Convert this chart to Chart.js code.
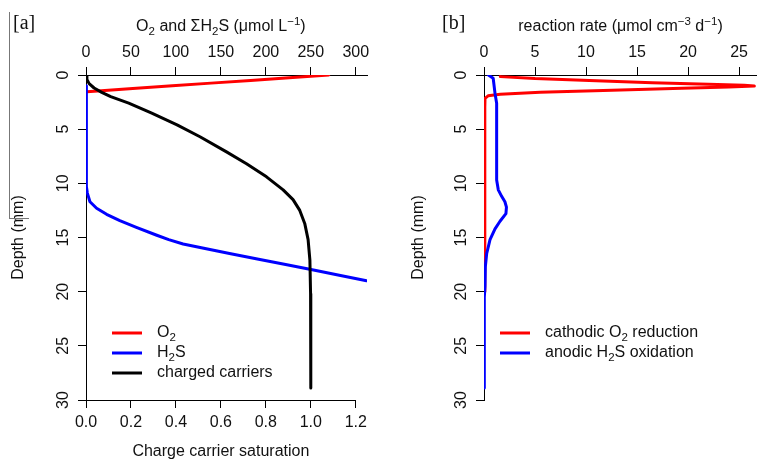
<!DOCTYPE html>
<html>
<head>
<meta charset="utf-8">
<script src="https://cdn.jsdelivr.net/npm/chart.js@4.4.1/dist/chart.umd.min.js"></script>
<style>
  html, body { margin: 0; padding: 0; background: #fff; }
  #wrap { position: relative; width: 757px; height: 462px; overflow: hidden; }
  #panelA { position: absolute; left: 0; top: 0; }
  #panelB { position: absolute; left: 378px; top: 0; }
  #edge { position: absolute; left: 9px; top: 12px; width: 19px; height: 206px; border-left: 1px solid #777; border-bottom: 1px solid #777; }
</style>
</head>
<body>
<div id="wrap">
  <canvas id="panelA" width="378" height="462"></canvas>
  <canvas id="panelB" width="379" height="462"></canvas>
  <div id="edge"></div>
</div>
<script>
// tick labels
const depthTicks = [0, 5, 10, 15, 20, 25, 30];
const concTicks = [0, 50, 100, 150, 200, 250, 300];
const satTicks = [0, 0.2, 0.4, 0.6, 0.8, 1.0, 1.2];
const rateTicks = [0, 5, 10, 15, 20, 25];

// panel a : O2 (umol/L)
const o2Depth = [0, 0.25, 0.5, 0.75, 1.0, 1.25, 1.45, 1.55];
const o2Conc = [270, 226, 183, 139, 96, 52, 17, 1];

// panel a : H2S (umol/L)
const h2sDepth = [1.0, 5, 9.4, 10.3, 10.9, 11.7, 12.3, 12.86, 13.45, 14.06, 14.77, 15.2, 15.6, 16.0, 16.5, 17.0, 17.5, 18.0, 18.5, 19.0];
const h2sConc = [0, 0, 0.4, 0.9, 1.5, 4.4, 11.8, 22.9, 37.6, 56, 78, 92, 108, 131, 161, 192, 222, 253, 283, 312];

// panel a : charge carrier saturation
const ccDepth = [0, 0.4, 0.8, 1.2, 1.6, 2.0, 2.6, 3.5, 4.6, 5.7, 7.1, 8.2, 9.4, 10.6, 11.5, 12.5, 13.7, 15.2, 17.1, 20.2, 28.9];
const ccSat = [0, 0.004, 0.014, 0.036, 0.07, 0.11, 0.19, 0.29, 0.405, 0.507, 0.625, 0.714, 0.803, 0.877, 0.921, 0.951, 0.973, 0.988, 0.996, 0.999, 1.0];

// panel b : cathodic O2 reduction (umol cm-3 d-1)
const cathDepth = [0.15, 0.33, 0.52, 0.72, 0.85, 0.95, 1.02, 1.1, 1.23, 1.42, 1.6, 1.78, 1.92, 2.15, 3, 10, 20];
const cathRate = [1.6, 5.0, 11.0, 16.5, 22.0, 25.5, 26.5, 24.0, 19.4, 11.7, 5.5, 1.6, 0.4, 0.1, 0.08, 0.08, 0.08];

// panel b : anodic H2S oxidation
const anoDepth = [0, 0.3, 1.7, 2.6, 9.7, 10.6, 11.2, 11.7, 12.2, 12.8, 13.5, 14.2, 15.2, 16.5, 17.7, 19.5, 20.5, 28.9];
const anoRate = [0.43, 0.9, 1.08, 1.24, 1.24, 1.4, 1.73, 2.05, 2.2, 2.15, 1.57, 1.08, 0.59, 0.26, 0.13, 0.1, 0.03, 0.03];

const FONT = "'Liberation Sans', Arial, sans-serif";
const INK = '#111';

function pts(depth, vals) {
  return depth.map((d, i) => ({ x: vals[i], y: d }));
}

function line(label, depth, vals, color, xAxisID, order) {
  return {
    label, data: pts(depth, vals), xAxisID, yAxisID: 'y', order,
    showLine: true, borderColor: color, backgroundColor: color, borderWidth: 3,
    pointRadius: 0, tension: 0, borderJoinStyle: 'round', borderCapStyle: 'round'
  };
}

function makeAxis(position, min, max, tickVals, size, fmt) {
  const vertical = position === 'left';
  return {
    type: 'linear', position, min, max, reverse: vertical,
    afterBuildTicks: s => { s.ticks = tickVals.map(v => ({ value: v })); },
    afterFit: s => { if (vertical) s.width = size; else s.height = size; },
    grid: { drawOnChartArea: false, drawTicks: true, tickLength: 8, tickColor: '#000', tickWidth: 1 },
    border: { display: true, color: '#000', width: 1 },
    ticks: {
      color: INK, font: { family: FONT, size: 16 }, padding: vertical ? 6 : 5,
      minRotation: vertical ? 90 : 0, maxRotation: vertical ? 90 : 0,
      crossAlign: vertical ? 'center' : 'near', autoSkip: false,
      callback: fmt || (v => v)
    }
  };
}

function richText(ctx, parts, x, y, size, align) {
  const widths = parts.map(([t, m]) => {
    ctx.font = (m ? size * 0.72 : size) + 'px ' + FONT;
    return ctx.measureText(t).width;
  });
  const total = widths.reduce((a, b) => a + b, 0);
  let cx = align === 'center' ? x - total / 2 : x;
  ctx.textBaseline = 'middle';
  ctx.textAlign = 'left';
  ctx.fillStyle = INK;
  parts.forEach(([t, m], i) => {
    ctx.font = (m ? size * 0.72 : size) + 'px ' + FONT;
    const dy = m === 'sub' ? size * 0.3 : m === 'sup' ? -size * 0.35 : 0;
    ctx.fillText(t, cx, y + dy);
    cx += widths[i];
  });
}

function subParts(label) {
  return label.split(/(2)/).filter(s => s).map(s => s === '2' ? [s, 'sub'] : [s]);
}

function drawLegend(ctx, chart, x0, y0) {
  chart.data.datasets.forEach((ds, i) => {
    const y = y0 + i * 20;
    ctx.strokeStyle = ds.borderColor;
    ctx.lineWidth = 3;
    ctx.beginPath();
    ctx.moveTo(x0, y);
    ctx.lineTo(x0 + 30, y);
    ctx.stroke();
    richText(ctx, subParts(ds.label), x0 + 45, y, 16, 'left');
  });
}

function tag(ctx, text, x, y) {
  ctx.font = '20px "Liberation Serif", "Times New Roman", serif';
  ctx.fillStyle = INK;
  ctx.textAlign = 'left';
  ctx.textBaseline = 'middle';
  ctx.fillText(text, x, y);
}

const depthTitle = pad => ({ display: true, text: 'Depth (mm)', color: INK, font: { family: FONT, size: 16 }, padding: { top: pad, bottom: 0 } });

// ---- panel a ----
const yA = makeAxis('left', 0, 30, depthTicks, 86);
yA.title = depthTitle(9);
const xA = makeAxis('bottom', 0, 1.25, satTicks, 62, v => v.toFixed(1));
xA.border.display = false; // axis line drawn only across the tick range below

new Chart(document.getElementById('panelA'), {
  type: 'scatter',
  data: {
    datasets: [
      line('O2', o2Depth, o2Conc, '#ff0000', 'x2', 2),
      line('H2S', h2sDepth, h2sConc, '#0000ff', 'x2', 1),
      line('charged carriers', ccDepth, ccSat, '#000000', 'x', 0)
    ]
  },
  options: {
    responsive: false, animation: false,
    layout: { padding: { left: 0, top: 0, right: 11, bottom: 0 } },
    plugins: { legend: { display: false }, tooltip: { enabled: false } },
    scales: {
      x: xA,
      x2: makeAxis('top', 0, 312.5, concTicks, 75),
      y: yA
    }
  },
  plugins: [{
    id: 'decorA',
    afterDraw(chart) {
      const { ctx, chartArea, scales } = chart;
      const x0 = scales.x.getPixelForValue(satTicks[0]);
      const x1 = scales.x.getPixelForValue(satTicks[satTicks.length - 1]);
      const mid = (x0 + x1) / 2;
      ctx.save();
      ctx.strokeStyle = '#000';
      ctx.lineWidth = 1;
      ctx.beginPath();
      ctx.moveTo(x0, chartArea.bottom + 0.5);
      ctx.lineTo(x1, chartArea.bottom + 0.5);
      ctx.stroke();
      richText(ctx, [['O'], ['2', 'sub'], [' and ΣH'], ['2', 'sub'], ['S (μmol L'], ['−1', 'sup'], [')']], mid, 27, 16, 'center');
      richText(ctx, [['Charge carrier saturation']], mid, 452, 16, 'center');
      tag(ctx, '[a]', 13, 24);
      drawLegend(ctx, chart, chartArea.left + 26, chartArea.bottom - 67);
      ctx.restore();
    }
  }]
});

// ---- panel b ----
const yB = makeAxis('left', 0, 30, depthTicks, 106);
yB.title = depthTitle(31);

new Chart(document.getElementById('panelB'), {
  type: 'scatter',
  data: {
    datasets: [
      line('cathodic O2 reduction', cathDepth, cathRate, '#ff0000', 'x', 1),
      line('anodic H2S oxidation', anoDepth, anoRate, '#0000ff', 'x', 0)
    ]
  },
  options: {
    responsive: false, animation: false,
    layout: { padding: { left: 0, top: 0, right: 0, bottom: 62 } },
    plugins: { legend: { display: false }, tooltip: { enabled: false } },
    scales: {
      x: makeAxis('top', 0, 26.76, rateTicks, 75),
      y: yB
    }
  },
  plugins: [{
    id: 'decorB',
    afterDraw(chart) {
      const { ctx, chartArea } = chart;
      const mid = (chartArea.left + chartArea.right) / 2;
      ctx.save();
      richText(ctx, [['reaction rate (μmol cm'], ['−3', 'sup'], [' d'], ['−1', 'sup'], [')']], mid, 27, 16, 'center');
      tag(ctx, '[b]', 64, 24);
      drawLegend(ctx, chart, chartArea.left + 16, chartArea.bottom - 67);
      ctx.restore();
    }
  }]
});
</script>
</body>
</html>
